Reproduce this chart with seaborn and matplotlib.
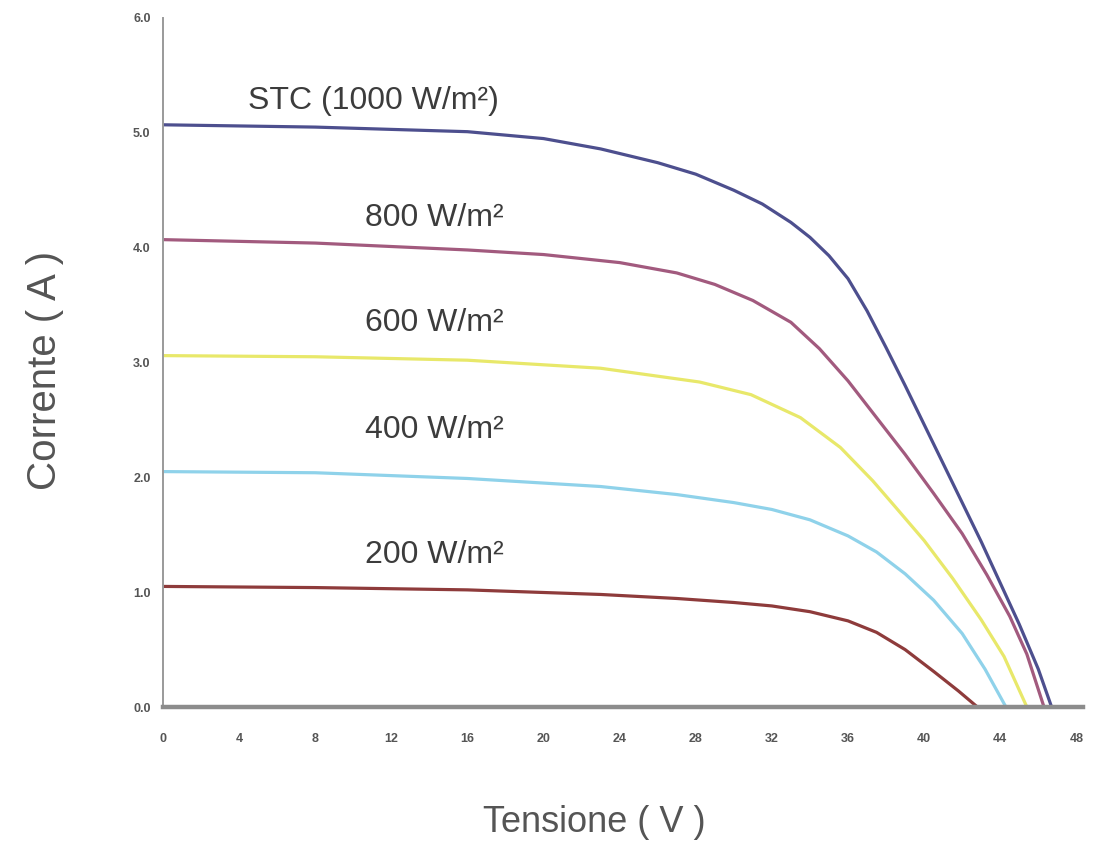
import numpy as np
import pandas as pd
import matplotlib
matplotlib.use('Agg')
import matplotlib.pyplot as plt
import seaborn as sns

# I-V curves (voltage in V, current in A)
v_1000 = [0, 4, 8, 12, 16, 20, 23, 26, 28, 30, 31.5, 33, 34, 35, 36, 37, 38, 39, 40, 41, 42, 43, 44, 45, 46, 46.7]
i_1000 = [5.07, 5.06, 5.05, 5.03, 5.01, 4.95, 4.86, 4.74, 4.64, 4.50, 4.38, 4.22, 4.09, 3.93, 3.73,
          3.45, 3.13, 2.80, 2.46, 2.12, 1.78, 1.44, 1.08, 0.72, 0.33, 0]

v_800 = [0, 8, 16, 20, 24, 27, 29, 31, 33, 34.5, 36, 37.5, 39, 40.5, 42, 43.3, 44.5, 45.4, 46.3]
i_800 = [4.07, 4.04, 3.98, 3.94, 3.87, 3.78, 3.68, 3.54, 3.35, 3.12, 2.84, 2.52, 2.20, 1.86, 1.51,
         1.15, 0.79, 0.46, 0]

v_600 = [0, 8, 16, 23, 28.2, 30.9, 33.5, 35.6, 37.3, 38.5, 40, 41.5, 43, 44.2, 45.4]
i_600 = [3.06, 3.05, 3.02, 2.95, 2.83, 2.72, 2.52, 2.26, 1.97, 1.74, 1.45, 1.12, 0.76, 0.44, 0]

v_400 = [0, 8, 16, 23, 27, 30, 32, 34, 36, 37.5, 39, 40.5, 42, 43.2, 44.3]
i_400 = [2.05, 2.04, 1.99, 1.92, 1.85, 1.78, 1.72, 1.63, 1.49, 1.35, 1.16, 0.93, 0.64, 0.33, 0]

v_200 = [0, 8, 16, 23, 27, 30, 32, 34, 36, 37.5, 39, 40.5, 41.8, 42.8]
i_200 = [1.05, 1.04, 1.02, 0.98, 0.945, 0.91, 0.88, 0.83, 0.75, 0.65, 0.50, 0.31, 0.14, 0]

series = ['STC (1000 W/m²)', '800 W/m²', '600 W/m²', '400 W/m²', '200 W/m²']
colors = ['#4d4f8e', '#a25a7e', '#e8e86a', '#8fd2ea', '#8e3b3b']

x_ticks = [0, 4, 8, 12, 16, 20, 24, 28, 32, 36, 40, 44, 48]
y_ticks = [0.0, 1.0, 2.0, 3.0, 4.0, 5.0, 6.0]

curves = [(v_1000, i_1000), (v_800, i_800), (v_600, i_600), (v_400, i_400), (v_200, i_200)]
df = pd.concat([pd.DataFrame({'Tensione': v, 'Corrente': i, 'serie': name})
                for (v, i), name in zip(curves, series)], ignore_index=True)

sns.set_style('white')
plt.rcParams['font.family'] = ['Liberation Sans', 'DejaVu Sans']

fig = plt.figure(figsize=(10.94, 8.56), dpi=100)
ax = fig.add_axes([163 / 1094, 149 / 856, 920 / 1094, 689 / 856])

sns.lineplot(data=df, x='Tensione', y='Corrente', hue='serie', palette=dict(zip(series, colors)),
             linewidth=2.3, legend=False, sort=False, ax=ax)

ax.set_xlim(0, 48.35)
ax.set_ylim(0, 6)
ax.set_xticks(x_ticks)
ax.set_xticklabels([str(t) for t in x_ticks])
ax.set_yticks(y_ticks)
ax.set_yticklabels([f'{t:.1f}' for t in y_ticks])
ax.tick_params(axis='both', labelsize=9, colors='#888888', labelcolor='#555555', length=3, width=1)
ax.tick_params(axis='x', pad=16)
ax.tick_params(axis='y', pad=6)
for lab in ax.get_xticklabels() + ax.get_yticklabels():
    lab.set_fontweight('bold')

sns.despine(ax=ax)
ax.spines['bottom'].set_color('#8c8c8c')
ax.spines['bottom'].set_linewidth(3.2)
ax.spines['left'].set_color('#9a9a9a')
ax.spines['left'].set_linewidth(1.4)
ax.set_xlabel('')
ax.set_ylabel('')

# curve labels
label_pos = [(4.45, 5.28), (10.6, 4.26), (10.6, 3.34), (10.6, 2.41), (10.6, 1.32)]
for (x, y), name in zip(label_pos, series):
    ax.text(x, y, name, fontsize=23, color='#3c3c3c', ha='left', va='center')

fig.text(594 / 1094, 1 - 822 / 856, 'Tensione ( V )', fontsize=26, color='#555555',
         ha='center', va='center')
fig.text(45 / 1094, 1 - 370 / 856, 'Corrente ( A )', fontsize=29, color='#555555',
         ha='center', va='center', rotation=90)

fig.savefig('out.png', dpi=100, facecolor='white')
